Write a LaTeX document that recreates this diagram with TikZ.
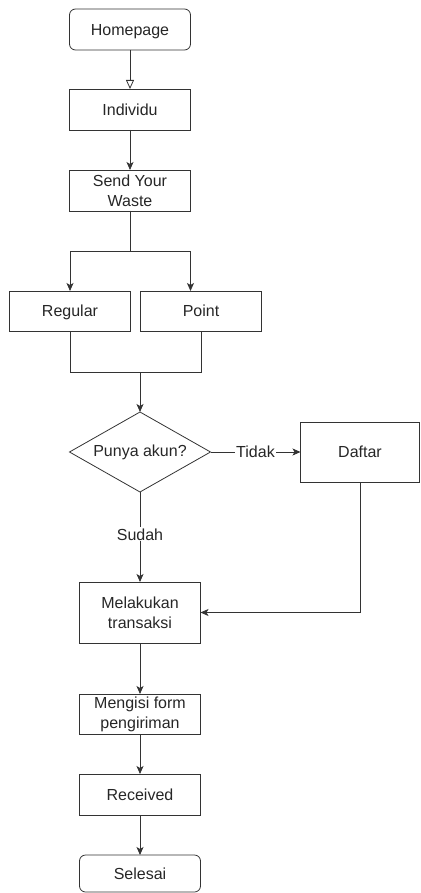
\documentclass[tikz,border=0pt]{standalone}
\usepackage{fontspec}
\setmainfont{Liberation Sans}
\usetikzlibrary{positioning, shapes.geometric, arrows.meta}

\begin{document}
\begin{tikzpicture}[x=1pt, y=1pt,
                    font=\fontsize{16}{20}\selectfont,
                    boxnode/.style={rectangle, draw=black!80, thick, text=black!85, align=center, inner sep=0pt, outer sep=0pt, minimum width=121pt, minimum height=41pt},
                    oneline/.style={text height=11.5pt, text depth=0pt},
                    endnode/.style={boxnode, oneline, rounded corners=6pt},
                    decnode/.style={diamond, draw=black!80, thick, text=black!85, inner sep=0pt, outer sep=0pt, aspect=1.76, minimum width=141pt, minimum height=80pt},
                    flow/.style={draw=black!80, thick, -{Stealth[length=8pt, width=7pt, inset=2pt]}},
                    lbl/.style={fill=white, text=black!85, inner sep=1pt},
                ]
                    \useasboundingbox (0,0) rectangle (420,-893);

                    %Nodes
                    \node[endnode](home) at (130,-29.5) {Homepage};
                    \node[boxnode, oneline](indiv)[below=39pt of home] {Individu};
                    \node[boxnode](send)[below=40pt of indiv] {Send Your\\Waste};
                    \node[boxnode, oneline](regular)[below=80pt of send, xshift=-60pt, minimum height=40pt] {Regular};
                    \node[boxnode, oneline](point)[right=10pt of regular, minimum height=40pt] {Point};
                    \coordinate[below=41pt of regular, xshift=70pt](join);
                    \node[decnode](akun)[below=40pt of join] {Punya akun?};
                    \node[boxnode, oneline](daftar)[right=90pt of akun, minimum width=119pt, minimum height=60pt] {Daftar};
                    \node[boxnode](transaksi)[below=90pt of akun, minimum height=61pt] {Melakukan\\transaksi};
                    \node[boxnode](form)[below=51pt of transaksi, minimum height=40pt] {Mengisi form\\pengiriman};
                    \node[boxnode, oneline](received)[below=40pt of form] {Received};
                    \node[endnode](selesai)[below=40pt of received, minimum height=37pt] {Selesai};

                    %Lines
                    \draw[thick, draw=black!80, -{Triangle[open, length=9pt, width=8pt]}](home.south) -- (indiv.north);
                    \draw[flow](indiv.south) -- (send.north);
                    \draw[flow](send.south) -- ++(0,-40) -| (regular.north);
                    \draw[flow](send.south) -- ++(0,-40) -| (send.east |- point.north);
                    \draw[thick, draw=black!80](regular.south) |- (join);
                    \draw[thick, draw=black!80](point.south) |- (join);
                    \draw[flow](join) -- (akun.north);
                    \draw[flow](akun.east) -- node[lbl]{Tidak} (daftar.west);
                    \draw[flow](akun.south) -- node[lbl, pos=0.47]{Sudah} (transaksi.north);
                    \draw[flow](daftar.south) |- (transaksi.east);
                    \draw[flow](transaksi.south) -- (form.north);
                    \draw[flow](form.south) -- (received.north);
                    \draw[flow](received.south) -- (selesai.north);
                \end{tikzpicture}
\end{document}
